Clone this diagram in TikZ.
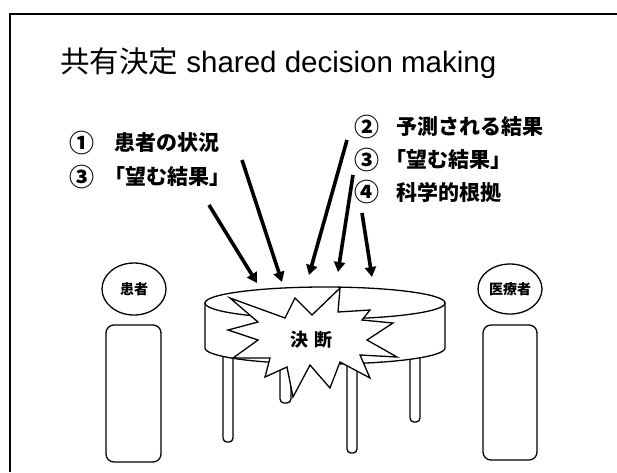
\documentclass[tikz,border=0pt]{standalone}
\usepackage{fontspec}
\setmainfont{Liberation Sans}
\newfontfamily\jp{Noto Sans CJK JP}
\usetikzlibrary{arrows.meta,shapes.geometric}
\begin{document}
\begin{tikzpicture}[x=1pt,y=-1pt,
  outl/.style={draw=black, line width=1.3pt},
  jlabel/.style={font=\jp\bfseries\fontsize{21}{21}\selectfont, anchor=west, inner sep=0pt},
  numlabel/.style={font=\jp\bfseries\fontsize{25}{25}\selectfont, anchor=center, inner sep=0pt},
  head/.style={ellipse, outl, fill=white, inner sep=0pt, font=\jp\bfseries\fontsize{14}{14}\selectfont},
  body/.style={rectangle, rounded corners=8pt, outl, fill=white},
  leg/.style={outl, fill=white, rounded corners=4pt},
  pointer/.style={line width=3.6pt, -{Triangle[length=10pt,width=11pt]}}]
\useasboundingbox (0,0) rectangle (617,472);
\fill[white] (0,0) rectangle (617,472);

% slide frame
\draw[line width=1.8pt] (10,472) -- (10,14) -- (617,14);

% title
\node[anchor=west, inner sep=0pt, font=\fontsize{29.5}{29.5}\selectfont] (title) at (60,63)
  {{\jp 共有決定} shared decision making};

% left list
\node[numlabel] (n1) at (82,143) {①};
\node[jlabel] (t1) at (114,143) {患者の状況};
\node[numlabel] (n3a) at (82,177) {③};
\node[jlabel] (t3a) at (104,177) {「望む結果」};

% right list
\node[numlabel] (n2) at (367,127) {②};
\node[jlabel] (t2) at (396,127) {予測される結果};
\node[numlabel] (n3b) at (367,160) {③};
\node[jlabel] (t3b) at (385,160) {「望む結果」};
\node[numlabel] (n4) at (367,192) {④};
\node[jlabel] (t4) at (396,192) {科学的根拠};

% patient and clinician
\node[head, minimum width=64pt, minimum height=52pt] (pat) at (134,289) {患者};
\node[body, minimum width=55pt, minimum height=137pt] (patbody) at (133.5,393.5) {};
\node[head, minimum width=64pt, minimum height=50pt] (doc) at (510,289) {医療者};
\node[body, minimum width=54pt, minimum height=135pt] (docbody) at (510,392.5) {};

% table legs
\draw[leg] (280,345) -- (280,403) -- (291,403) -- (291,345);
\draw[leg] (410,345) -- (410,422) -- (420,422) -- (420,345);
\draw[leg] (223,345) -- (223,442) -- (233,442) -- (233,345);
\draw[leg] (347,345) -- (347,453) -- (357,453) -- (357,345);

% table top
\filldraw[outl, fill=white] (205,303) -- (205,348)
  arc[start angle=180, end angle=0, x radius=120, y radius=16] -- (445,303) -- cycle;
\filldraw[outl, fill=white] (325,303) ellipse[x radius=120, y radius=16];

% decision burst
\filldraw[outl, fill=white, line join=miter]
  (230,298) -- (258,322) -- (228,330) -- (258,340) -- (233,358) -- (270,358)
  -- (265,377) -- (287,367) -- (293,397) -- (310,365) -- (330,388) -- (340,362)
  -- (370,378) -- (360,355) -- (397,357) -- (367,340) -- (393,323) -- (362,320)
  -- (370,310) -- (338,312) -- (340,288) -- (312,315) -- (295,298) -- (285,318)
  -- cycle;
\node[inner sep=0pt, font=\jp\bfseries\fontsize{18}{18}\selectfont] (burst) at (311,340) {決\,\,断};

% arrows pointing at the table
\coordinate (a1) at (209,205); \coordinate (b1) at (257,283);
\coordinate (a2) at (242,160); \coordinate (b2) at (282,282);
\coordinate (a3) at (347,140); \coordinate (b3) at (309,275);
\coordinate (a4) at (353,175); \coordinate (b4) at (338,272);
\coordinate (a5) at (362,213); \coordinate (b5) at (372,277);
\foreach \i in {1,...,5} \draw[pointer] (a\i) -- (b\i);
\end{tikzpicture}
\end{document}
